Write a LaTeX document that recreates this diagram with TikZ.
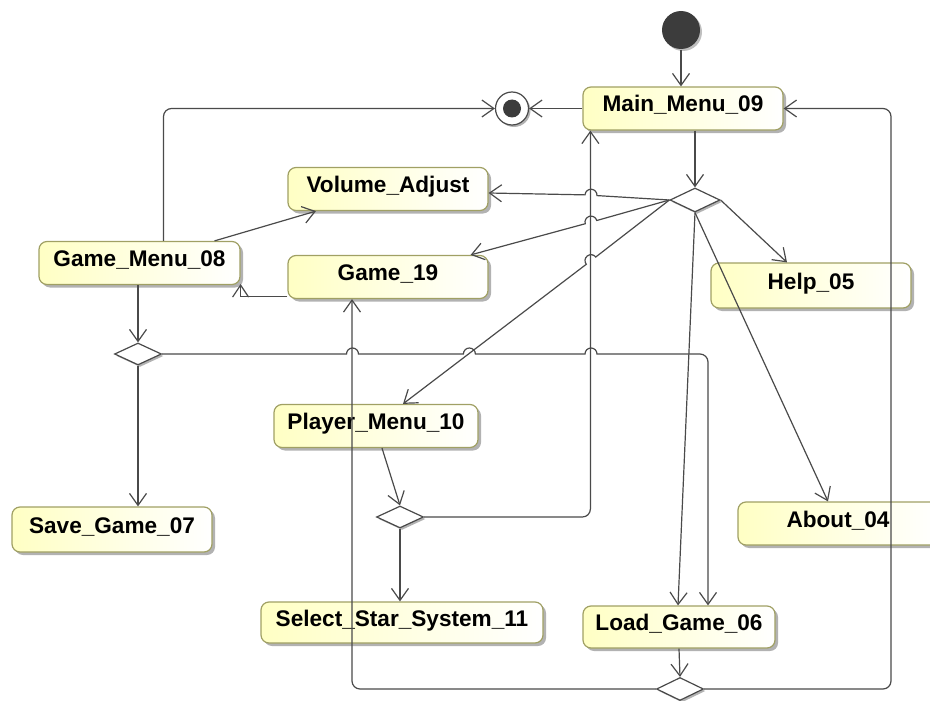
\documentclass[tikz,border=0pt]{standalone}
\usepackage{fontspec}
\setmainfont{Liberation Sans}
\usetikzlibrary{arrows.meta,shapes.geometric,shadows}
\definecolor{linecol}{HTML}{4A4A4A}
\definecolor{boxfill}{HTML}{FFFFC4}
\definecolor{boxedge}{HTML}{A0A064}
\definecolor{dotcol}{HTML}{3C3C3C}
\begin{document}
\begin{tikzpicture}[x=1pt,y=-1pt,line width=1.2pt,
  act/.style={draw=boxedge, rounded corners=8pt, left color=boxfill, right color=white,
    minimum width=200pt, minimum height=43pt, inner sep=0pt,
    text height=12pt, text depth=5pt,
    font=\fontsize{22.6}{26}\selectfont\bfseries,
    drop shadow={shadow xshift=3pt, shadow yshift=-3pt, fill=black, opacity=0.3}},
  dec/.style={diamond, draw=linecol, fill=white, minimum width=47pt, minimum height=22pt,
    inner sep=0pt,
    drop shadow={shadow xshift=2pt, shadow yshift=-2pt, fill=black, opacity=0.3}},
  flow/.style={draw=linecol, -{Straight Barb[length=12pt,width=17pt]}},
  plain/.style={draw=linecol},
  ]
\useasboundingbox (0,0) rectangle (930,701);

% start and end points
\node[circle, fill=dotcol, minimum size=38pt, inner sep=0pt,
  drop shadow={shadow xshift=2pt, shadow yshift=-2pt, fill=black, opacity=0.25}] (init) at (681,30) {};
\node[circle, draw=linecol, fill=white, minimum size=33pt, inner sep=0pt,
  drop shadow={shadow xshift=2pt, shadow yshift=-2pt, fill=black, opacity=0.3}] (final) at (512,108.5) {};
\fill[dotcol] (final.center) circle[radius=9];

% activities
\node[act] (main)   at (683,108.5) {Main\_Menu\_09};
\node[act] (vol)    at (388,189)   {Volume\_Adjust};
\node[act, minimum width=201pt] (gmenu) at (139.5,263) {Game\_Menu\_08};
\node[act] (game19) at (388,277)   {Game\_19};
\node[act, minimum height=45pt] (help) at (811,285.5) {Help\_05};
\node[act] (about)  at (838,523.5) {About\_04};
\node[act, minimum width=204pt] (player) at (376,426) {Player\_Menu\_10};
\node[act, minimum height=45pt] (save) at (112,529.5) {Save\_Game\_07};
\node[act, minimum width=282pt, minimum height=41pt] (select) at (402,622.5) {Select\_Star\_System\_11};
\node[act, minimum width=192pt, minimum height=42pt] (load) at (679,627) {Load\_Game\_06};

% decisions
\node[dec, minimum width=50pt, minimum height=24pt] (d1) at (695,200) {};
\node[dec] (d2) at (138,354) {};
\node[dec] (d3) at (400,517) {};
\node[dec, minimum height=23pt] (d4) at (680,689) {};

\coordinate (rtop) at (891,108.5);

% flows
\draw[flow] (init.south) -- (init.south |- main.north);
\draw[flow] (main.west) -- (final.east);
\draw[flow, rounded corners=8pt] ([xshift=24pt]gmenu.north) |- (final.west);
\draw[flow] (d1.north |- main.south) -- (d1.north);

\draw[flow] (d1.west) -- (596.99,195.59) arc[start angle=3.46,end angle=-176.54,radius=6]
  -- ([yshift=-4pt]vol.east);
\draw[flow] (d1.west) -- (596.78,220.50) arc[start angle=344.36,end angle=164.36,radius=6]
  -- ([xshift=-18pt]game19.north east);
\draw[flow] (d1.west) -- (595.76,257.01) arc[start angle=322.48,end angle=142.48,radius=6]
  -- ([xshift=27pt]player.north);
\draw[flow] (d1.east) -- ([xshift=-24pt]help.north);
\draw[flow] (d1.south) -- ([xshift=-10pt]about.north);
\draw[flow] (d1.south) -- ([xshift=-1pt]load.north);

\draw[flow] ([xshift=75pt]gmenu.north) -- ([xshift=-72pt]vol.south);
% short return from Game_19: the bend is too tight for a shortened tip, so the barb is drawn by hand
\draw[plain] ([yshift=3pt]game19.south west) -| (gmenu.south east);
\draw[plain] ([xshift=-8pt,yshift=-12pt]gmenu.south east) -- (gmenu.south east)
  -- ([xshift=8pt,yshift=-12pt]gmenu.south east);
\draw[flow] (d2.north |- gmenu.south) -- (d2.north);
\draw[flow] (d2.south) -- (d2.south |- save.north);
\draw[flow] (d2.east) -- (346.5,354) arc[start angle=180,end angle=360,radius=6]
  -- (463.4,354) arc[start angle=180,end angle=360,radius=6]
  -- (585,354) arc[start angle=180,end angle=360,radius=6]
  [rounded corners=8pt] -| ([xshift=29pt]load.north);

\draw[flow] ([xshift=6pt]player.south) -- (d3.north);
\draw[flow] (d3.south) -- (d3.south |- select.north);
\draw[flow, rounded corners=8pt] (d3.east) -| ([xshift=8pt]main.south west);

\draw[flow] (load.south) -- (d4.north);
\draw[flow, rounded corners=8pt] (d4.west) -| ([xshift=-36pt]game19.south);
\draw[flow, rounded corners=8pt] (d4.east) -| (rtop) -- (main.east);
\end{tikzpicture}
\end{document}
